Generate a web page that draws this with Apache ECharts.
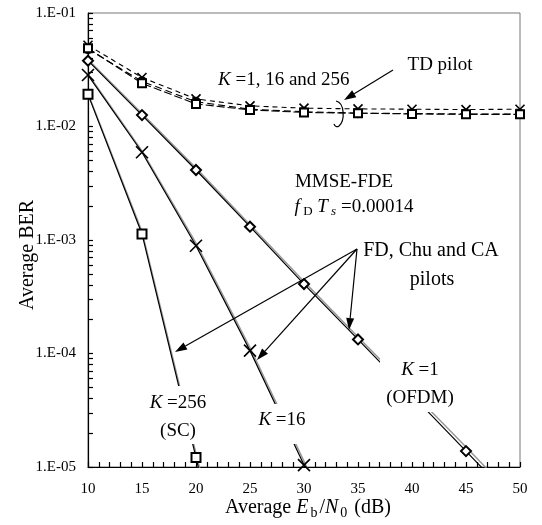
<!DOCTYPE html>
<html>
<head>
<meta charset="utf-8">
<script src="https://cdn.jsdelivr.net/npm/echarts@6/dist/echarts.min.js"></script>
<style>
html,body{margin:0;padding:0;background:#fff;}
#chart{width:542px;height:525px;}
</style>
</head>
<body>
<div id="chart"></div>
<script>
// ---- data ----
const snrFD = [10, 15, 20, 25, 30, 35, 40, 45, 50];
const fdK1 = [3.8e-2, 1.26e-2, 4.14e-3, 1.31e-3, 4.09e-4, 1.33e-4, 4.3e-5, 1.38e-5, 4.4e-6];
const chuK1 = [3.9e-2, 1.3e-2, 4.3e-3, 1.36e-3, 4.3e-4, 1.4e-4, 4.6e-5, 1.5e-5, 4.8e-6];
const fdK16 = [2.84e-2, 5.93e-3, 8.9e-4, 1.06e-4, 1.04e-5, 1.0e-6];
const chuK16 = [2.9e-2, 6.1e-3, 9.4e-4, 1.13e-4, 1.12e-5, 1.1e-6];
const fdK256 = [1.92e-2, 1.13e-3, 1.21e-5, 1.3e-7];
const chuK256 = [1.95e-2, 1.19e-3, 1.32e-5, 1.5e-7];
const snrTD = [10, 15, 20, 25, 30, 35, 40, 45, 50];
const tdK1 = [4.8e-2, 2.5e-2, 1.65e-2, 1.42e-2, 1.35e-2, 1.31e-2, 1.30e-2, 1.29e-2, 1.29e-2];
const tdK16 = [5.2e-2, 2.7e-2, 1.75e-2, 1.52e-2, 1.45e-2, 1.43e-2, 1.42e-2, 1.41e-2, 1.42e-2];
const tdK256 = [4.9e-2, 2.4e-2, 1.58e-2, 1.40e-2, 1.33e-2, 1.31e-2, 1.29e-2, 1.28e-2, 1.28e-2];
const xTicks = [10, 15, 20, 25, 30, 35, 40, 45, 50];
const yDecades = [1e-5, 1e-4, 1e-3, 1e-2, 1e-1];

// tick values for the log axis (decades plus 2..9 in each decade)
const yTickValues = [];
yDecades.forEach(function (d, i) {
  yTickValues.push(d);
  if (i < yDecades.length - 1) for (let m = 2; m <= 9; m++) yTickValues.push(+(d * m).toPrecision(3));
});

function pairs(xs, ys) { return ys.map(function (v, i) { return [xs[i], v]; }); }

const SERIF = '"Liberation Serif", "Times New Roman", serif';
const crossPath = 'path://M0,0L10,10M10,0L0,10';

function fdSeries(name, data, symbol, size) {
  return {
    name: name, type: 'line', data: data, symbol: symbol, symbolSize: size,
    lineStyle: { color: '#000', width: 1.2 },
    itemStyle: { color: symbol === crossPath ? 'rgba(0,0,0,0)' : '#000', borderColor: '#000', borderWidth: 1.6 },
    z: 4, animation: false, clip: true
  };
}
function grayLine(name, data) {
  return {
    name: name, type: 'line', data: data, symbol: 'none',
    lineStyle: { color: '#999', width: 1.5 }, z: 3, animation: false, clip: true
  };
}
function tdSeries(name, data, symbol, size, dash) {
  return {
    name: name, type: 'line', data: data, symbol: symbol, symbolSize: size,
    lineStyle: { color: '#000', width: 1.1, type: dash },
    itemStyle: { color: symbol === crossPath ? 'rgba(0,0,0,0)' : '#000', borderColor: '#000', borderWidth: 1.6 },
    z: 4, animation: false, clip: true
  };
}

const chart = echarts.init(document.getElementById('chart'));

function arrow(x1, y1, x2, y2) {
  const a = Math.atan2(y2 - y1, x2 - x1), L = 12, W = 4;
  const c = Math.cos(a), s = Math.sin(a);
  const bx = x2 - L * c, by = y2 - L * s;
  return [
    { type: 'polyline', z: 100, shape: { points: [[x1, y1], [bx, by]] }, style: { stroke: '#000', lineWidth: 1.2, fill: null } },
    { type: 'polygon', z: 100, shape: { points: [[x2, y2], [bx + W * s, by - W * c], [bx - W * s, by + W * c]] }, style: { fill: '#000' } }
  ];
}
function txt(x, y, text, rich, align) {
  return {
    type: 'text', z: 101, x: x, y: y,
    style: { text: text, rich: rich, fill: '#000', fontSize: 19, fontFamily: SERIF, align: align || 'center', verticalAlign: 'middle' }
  };
}
const R = {
  n: { fontSize: 19, fontFamily: SERIF, fill: '#000' },
  i: { fontSize: 19, fontFamily: SERIF, fontStyle: 'italic', fill: '#000' },
  s: { fontSize: 13, fontFamily: SERIF, fill: '#000', padding: [9, 0, 0, 0] },
  si: { fontSize: 13, fontFamily: SERIF, fontStyle: 'italic', fill: '#000', padding: [9, 0, 0, 0] }
};
const R20 = {
  n: { fontSize: 20, fontFamily: SERIF, fill: '#000' }
};
function whiteBox(x, y, w, h) {
  return { type: 'rect', z: 99, shape: { x: x, y: y, width: w, height: h }, style: { fill: '#fff' } };
}

const graphics = [].concat(
  [whiteBox(150, 386, 56, 58), whiteBox(262, 404, 40, 40), whiteBox(380, 356, 78, 56)],
  arrow(393, 70, 344, 100),
  arrow(357, 249, 175, 352),
  arrow(357, 249, 257, 360),
  arrow(357, 249, 349, 330),
  [
    { type: 'bezierCurve', z: 100, shape: { x1: 336, y1: 101, cpx1: 345, cpy1: 103, cpx2: 345, cpy2: 121, x2: 339, y2: 126 }, style: { stroke: '#000', lineWidth: 1.2, fill: null } },
    { type: 'bezierCurve', z: 100, shape: { x1: 339, y1: 126, cpx1: 337, cpy1: 127.5, cpx2: 335, cpy2: 126.5, x2: 334, y2: 124 }, style: { stroke: '#000', lineWidth: 1.2, fill: null } },
    txt(218, 80, '{i|K}{n| =1, 16 and 256}', R, 'left'),
    txt(440, 65, 'TD pilot', R),
    txt(344, 182, 'MMSE-FDE', R),
    txt(354, 207, '{i|f}{s| D}{i| T}{si| s}{n| =0.00014}', R),
    txt(431, 251, '{n|FD, Chu and CA}', R20),
    txt(432, 280, '{n|pilots}', R20),
    txt(178, 403, '{i|K}{n| =256}', R),
    txt(178, 431, '(SC)', R),
    txt(282, 420, '{i|K}{n| =16}', R),
    txt(420, 370, '{i|K}{n| =1}', R),
    txt(420, 398, '(OFDM)', R),
    { type: 'text', z: 101, x: 28, y: 255, rotation: Math.PI / 2,
      style: { text: 'Average BER', fill: '#000', fontSize: 20, fontFamily: SERIF, align: 'center', verticalAlign: 'middle' } },
    txt(308, 508, '{n|Average }{i|E}{s|b}{n|/}{i|N}{s|0}{n| (dB)}', {
      n: { fontSize: 20, fontFamily: SERIF, fill: '#000' },
      i: { fontSize: 20, fontFamily: SERIF, fontStyle: 'italic', fill: '#000', padding: [0, 2, 0, 0] },
      s: { fontSize: 14, fontFamily: SERIF, fill: '#000', padding: [10, 2, 0, 0] }
    })
  ]
);

chart.setOption({
  animation: false,
  backgroundColor: '#fff',
  grid: { left: 88, right: 22, top: 13, bottom: 58, show: true, borderColor: '#777', borderWidth: 1 },
  xAxis: {
    type: 'value', min: 10, max: 50, interval: 5,
    axisLine: { show: true, lineStyle: { color: '#000', width: 1.2 } },
    axisTick: { show: true, inside: true, length: 5, lineStyle: { color: '#000', width: 1.2 } },
    minorTick: { show: true, splitNumber: 5, length: 5, lineStyle: { color: '#000', width: 1.2 } },
    splitLine: { show: false },
    minorSplitLine: { show: false },
    axisLabel: { color: '#000', fontFamily: SERIF, fontSize: 15, margin: 15, customValues: xTicks }
  },
  yAxis: {
    type: 'log', min: 1e-5, max: 1e-1, logBase: 10,
    axisLine: { show: true, lineStyle: { color: '#000', width: 1.2 } },
    axisTick: { show: true, inside: true, length: 5, lineStyle: { color: '#000', width: 1.2 }, customValues: yTickValues },
    splitLine: { show: false },
    axisLabel: {
      color: '#000', fontFamily: SERIF, fontSize: 15, margin: 12,
      customValues: yDecades,
      formatter: function (v) {
        const e = Math.round(Math.log10(v));
        const a = Math.abs(e);
        return '1.E' + (e < 0 ? '-' : '+') + (a < 10 ? '0' : '') + a;
      }
    }
  },
  series: [
    tdSeries('TD K=1', pairs(snrTD, tdK1), 'emptyCircle', 8, [7, 4]),
    tdSeries('TD K=16', pairs(snrTD, tdK16), crossPath, 9, [5, 4]),
    tdSeries('TD K=256', pairs(snrTD, tdK256), 'emptyRect', 8, [8, 3]),
    grayLine('Chu K=1', pairs(snrFD, chuK1)),
    grayLine('Chu K=16', pairs(snrFD, chuK16)),
    grayLine('Chu K=256', pairs(snrFD, chuK256)),
    fdSeries('FD K=1', pairs(snrFD, fdK1), 'emptyDiamond', 10),
    fdSeries('FD K=16', pairs(snrFD, fdK16), crossPath, 12),
    fdSeries('FD K=256', pairs(snrFD, fdK256), 'emptyRect', 9)
  ],
  graphic: graphics
});
</script>
</body>
</html>
